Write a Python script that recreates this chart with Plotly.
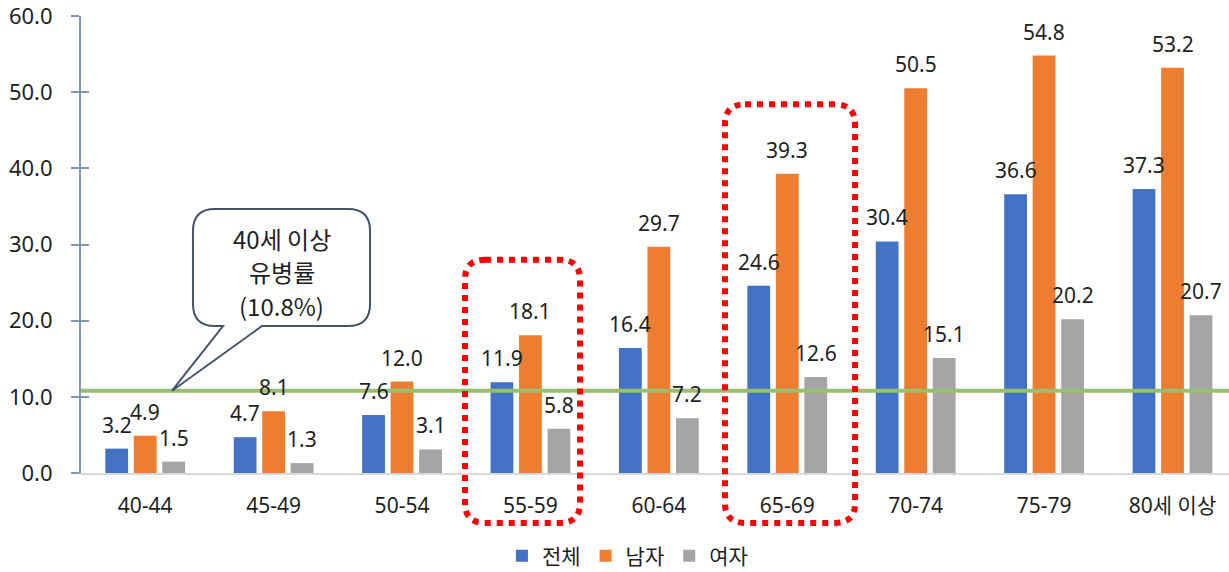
import plotly.graph_objects as go

# ---- data -----------------------------------------------------------------
categories = ["40-44", "45-49", "50-54", "55-59", "60-64", "65-69", "70-74", "75-79", "80세 이상"]
total = [3.2, 4.7, 7.6, 11.9, 16.4, 24.6, 30.4, 36.6, 37.3]
male = [4.9, 8.1, 12.0, 18.1, 29.7, 39.3, 50.5, 54.8, 53.2]
female = [1.5, 1.3, 3.1, 5.8, 7.2, 12.6, 15.1, 20.2, 20.7]
series_names = ["전체", "남자", "여자"]
overall_rate = 10.8
callout_lines = ["40세 이상", "유병률", "(10.8%)"]
y_ticks = [0, 10, 20, 30, 40, 50, 60]

# ---- layout constants -----------------------------------------------------
W, H = 1229, 572
M_L, M_R, M_T, M_B = 81, 0, 16, 99
PLOT_W, PLOT_H = W - M_L - M_R, H - M_T - M_B
X_RANGE = (-0.5, 8.44)
Y_RANGE = (0, 60)
BARGAP = 0.334
SLOT = (1 - BARGAP) / 3

COLORS = ["#4472c4", "#ed7d31", "#a5a5a5"]
TEXT = "#1f1f1f"
FONT = "Noto Sans CJK KR"
NUM_FONT = "Noto Sans, Noto Sans CJK KR"


def px(x):
    return (x - X_RANGE[0]) / (X_RANGE[1] - X_RANGE[0])


def py(y):
    return (y - Y_RANGE[0]) / (Y_RANGE[1] - Y_RANGE[0])


def rounded_rect(x0, x1, y0, y1, r_px):
    """Rounded rectangle path in paper units; corners given in pixels."""
    a, b, c, d = px(x0), px(x1), py(y0), py(y1)
    rx, ry = r_px / PLOT_W, r_px / PLOT_H
    return (f"M {a+rx},{d} L {b-rx},{d} Q {b},{d} {b},{d-ry} "
            f"L {b},{c+ry} Q {b},{c} {b-rx},{c} L {a+rx},{c} "
            f"Q {a},{c} {a},{c+ry} L {a},{d-ry} Q {a},{d} {a+rx},{d} Z")


def callout(x0, x1, y0, y1, tail_l, tail_r, tip_x, tip_y, r_px):
    """Speech bubble with a tail leaving the bottom edge."""
    a, b, c, d = px(x0), px(x1), py(y0), py(y1)
    rx, ry = r_px / PLOT_W, r_px / PLOT_H
    return (f"M {a+rx},{d} L {b-rx},{d} Q {b},{d} {b},{d-ry} "
            f"L {b},{c+ry} Q {b},{c} {b-rx},{c} "
            f"L {px(tail_r)},{c} L {px(tip_x)},{py(tip_y)} L {px(tail_l)},{c} "
            f"L {a+rx},{c} Q {a},{c} {a},{c+ry} L {a},{d-ry} Q {a},{d} {a+rx},{d} Z")


fig = go.Figure()
all_series = [total, male, female]
for name, vals, col in zip(series_names, all_series, COLORS):
    fig.add_trace(go.Bar(x=categories, y=vals, name=name, marker_color=col,
                         marker_line_width=0))

# invisible companion trace so the second y axis (cross ticks) is drawn
fig.add_trace(go.Scatter(x=[categories[0]], y=[0], yaxis="y2", mode="markers",
                         marker_opacity=0, showlegend=False, hoverinfo="skip"))

# value labels above each bar
annotations = []
for k, vals in enumerate(all_series):
    for i, v in enumerate(vals):
        annotations.append(dict(
            x=i + (k - 1) * SLOT, y=v, xref="x", yref="y", text=f"{v:.1f}",
            showarrow=False, yanchor="bottom", yshift=8,
            font=dict(size=21, color=TEXT, family=NUM_FONT)))

# callout text, one line per annotation
for line, yv in zip(callout_lines, [30.85, 26.4, 22.05]):
    annotations.append(dict(
        x=1.065, y=yv, xref="x", yref="y", text=line, showarrow=False,
        yanchor="middle", font=dict(size=24, color=TEXT, family=FONT)))

shapes = [
    # overall prevalence line
    dict(type="line", xref="paper", yref="y", x0=0, x1=1,
         y0=overall_rate, y1=overall_rate, line=dict(color="#97c06e", width=4),
         layer="above"),
    # speech bubble
    dict(type="path", xref="paper", yref="paper",
         path=callout(0.372, 1.751, 19.3, 34.66, 0.606, 0.91, 0.209, overall_rate, 22),
         line=dict(color="#44546a", width=2), fillcolor="white", layer="above"),
    # highlight frames
    dict(type="path", xref="paper", yref="paper",
         path=rounded_rect(2.49, 3.386, -6.55, 28.0, 20),
         line=dict(color="#ff0000", width=6, dash="dot"), layer="above"),
    dict(type="path", xref="paper", yref="paper",
         path=rounded_rect(4.515, 5.528, -6.55, 48.4, 20),
         line=dict(color="#ff0000", width=6, dash="dot"), layer="above"),
]

fig.update_layout(
    width=W, height=H,
    margin=dict(l=M_L, r=M_R, t=M_T, b=M_B, pad=0, autoexpand=False),
    paper_bgcolor="white", plot_bgcolor="white",
    barmode="group", bargap=BARGAP, bargroupgap=0.2,
    font=dict(family=FONT, color=TEXT),
    xaxis=dict(type="category", range=list(X_RANGE), showgrid=False,
               showline=True, linecolor="#d9d9d9", linewidth=1.5,
               ticks="", ticklabelstandoff=13,
               tickfont=dict(size=21, color=TEXT, family=NUM_FONT)),
    yaxis=dict(range=list(Y_RANGE), tickvals=y_ticks,
               ticktext=[f"{t:.1f}" for t in y_ticks],
               showgrid=False, zeroline=False, showline=True,
               linecolor="#8497b0", linewidth=2,
               ticks="outside", ticklen=8, tickwidth=2, tickcolor="#8497b0",
               ticklabelstandoff=14, ticklabeloverflow="allow",
               tickfont=dict(size=22, color=TEXT, family=NUM_FONT)),
    yaxis2=dict(range=list(Y_RANGE), overlaying="y", side="left",
                tickvals=y_ticks, showticklabels=False, showgrid=False,
                zeroline=False, showline=False,
                ticks="inside", ticklen=8, tickwidth=2, tickcolor="#8497b0"),
    legend=dict(orientation="h", x=0.476, xanchor="center", y=-0.182,
                yanchor="middle", font=dict(size=21, color=TEXT, family=FONT),
                itemclick=False),
    showlegend=True,
    annotations=annotations,
    shapes=shapes,
)

fig.write_html("out.html")
